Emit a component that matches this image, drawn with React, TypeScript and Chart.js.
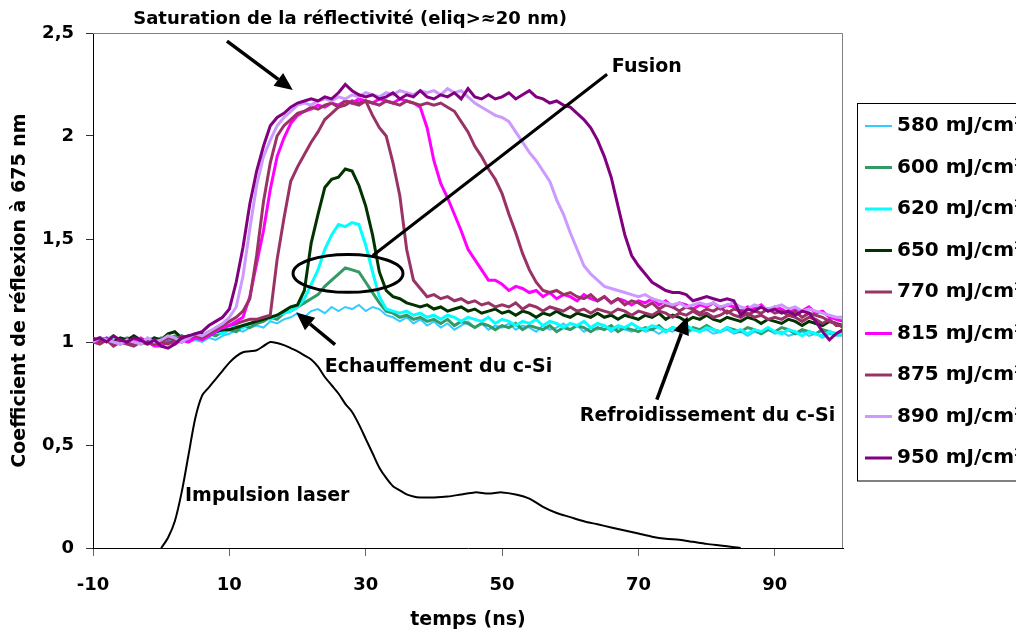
import React, { useEffect, useRef } from 'react';
import { Chart, registerables } from 'chart.js';

Chart.register(...registerables);

const FONT = '"DejaVu Sans", Arial, sans-serif';

// time axis (ns)
const timeNs = [
  -10, -9, -8, -7, -6, -5, -4, -3, -2, -1,
  0, 1, 2, 3, 4, 5, 6, 7, 8, 9,
  10, 11, 12, 13, 14, 15, 16, 17, 18, 19,
  20, 21, 22, 23, 24, 25, 26, 27, 28, 29,
  30, 31, 32, 33, 34, 35, 36, 37, 38, 39,
  40, 41, 42, 43, 44, 45, 46, 47, 48, 49,
  50, 51, 52, 53, 54, 55, 56, 57, 58, 59,
  60, 61, 62, 63, 64, 65, 66, 67, 68, 69,
  70, 71, 72, 73, 74, 75, 76, 77, 78, 79,
  80, 81, 82, 83, 84, 85, 86, 87, 88, 89,
  90, 91, 92, 93, 94, 95, 96, 97, 98, 99,
  100,
];

const r580 = [
  1.01, 1.00, 1.02, 1.00, 1.01, 0.99, 1.01, 1.00, 1.02, 1.00,
  0.99, 1.01, 1.00, 1.02, 1.00, 1.01, 1.00, 1.02, 1.01, 1.03,
  1.04, 1.06, 1.05, 1.07, 1.08, 1.07, 1.10, 1.09, 1.11, 1.12,
  1.14, 1.12, 1.15, 1.16, 1.14, 1.17, 1.15, 1.17, 1.16, 1.18,
  1.15, 1.17, 1.16, 1.13, 1.12, 1.10, 1.12, 1.09, 1.11, 1.08,
  1.10, 1.07, 1.09, 1.06, 1.08, 1.10, 1.07, 1.09, 1.06, 1.08,
  1.07, 1.09, 1.06, 1.08, 1.07, 1.05, 1.08, 1.06, 1.07, 1.09,
  1.06, 1.08, 1.05, 1.07, 1.06, 1.08, 1.05, 1.07, 1.06, 1.05,
  1.07, 1.05, 1.06, 1.04, 1.06, 1.05, 1.07, 1.04, 1.06, 1.05,
  1.06, 1.04, 1.05, 1.06, 1.04, 1.05, 1.03, 1.05, 1.04, 1.06,
  1.04, 1.05, 1.03, 1.04, 1.05, 1.03, 1.04, 1.02, 1.04, 1.03,
  1.03,
];

const r600 = [
  1.00, 1.02, 1.01, 1.03, 1.00, 1.02, 1.01, 0.99, 1.01, 1.00,
  1.02, 1.01, 1.03, 1.02, 1.01, 1.03, 1.02, 1.04, 1.03, 1.05,
  1.06, 1.05, 1.08, 1.07, 1.09, 1.10, 1.12, 1.11, 1.14, 1.15,
  1.17, 1.19, 1.21, 1.23, 1.27, 1.30, 1.33, 1.36, 1.35, 1.34,
  1.29, 1.24, 1.19, 1.15, 1.14, 1.12, 1.13, 1.11, 1.12, 1.10,
  1.11, 1.09, 1.11, 1.08, 1.10, 1.09, 1.07, 1.09, 1.08, 1.06,
  1.08, 1.07, 1.09, 1.06, 1.08, 1.07, 1.06, 1.08, 1.05, 1.07,
  1.06, 1.08, 1.07, 1.05, 1.07, 1.06, 1.08, 1.05, 1.07, 1.06,
  1.05, 1.07, 1.06, 1.08, 1.05, 1.07, 1.06, 1.05, 1.07, 1.06,
  1.08, 1.06, 1.05, 1.07, 1.06, 1.05, 1.07, 1.06, 1.04, 1.06,
  1.05, 1.07, 1.06, 1.04, 1.06, 1.05, 1.04, 1.06, 1.05, 1.04,
  1.05,
];

const r620 = [
  1.01, 1.00, 1.02, 1.01, 0.99, 1.01, 1.02, 1.00, 1.01, 1.02,
  1.00, 1.02, 1.01, 1.03, 1.01, 1.02, 1.04, 1.03, 1.05, 1.04,
  1.06, 1.08, 1.07, 1.09, 1.10, 1.12, 1.11, 1.13, 1.14, 1.15,
  1.17, 1.21, 1.28, 1.35, 1.45, 1.52, 1.57, 1.56, 1.58, 1.57,
  1.47, 1.34, 1.22, 1.16, 1.15, 1.14, 1.15, 1.13, 1.14, 1.12,
  1.13, 1.11, 1.13, 1.12, 1.10, 1.12, 1.11, 1.10, 1.12, 1.09,
  1.11, 1.10, 1.08, 1.10, 1.09, 1.11, 1.08, 1.10, 1.09, 1.07,
  1.09, 1.08, 1.10, 1.07, 1.09, 1.08, 1.06, 1.08, 1.07, 1.09,
  1.07, 1.06, 1.08, 1.07, 1.05, 1.07, 1.06, 1.08, 1.06, 1.05,
  1.07, 1.06, 1.05, 1.07, 1.05, 1.06, 1.04, 1.06, 1.05, 1.07,
  1.05, 1.04, 1.06, 1.05, 1.03, 1.05, 1.04, 1.03, 1.05, 1.04,
  1.04,
];

const r650 = [
  1.00, 1.02, 1.01, 1.00, 1.02, 1.01, 1.03, 1.01, 1.00, 1.02,
  1.01, 1.04, 1.05, 1.02, 1.03, 1.02, 1.04, 1.03, 1.05, 1.06,
  1.06, 1.07, 1.08, 1.09, 1.10, 1.11, 1.12, 1.13, 1.15, 1.17,
  1.18, 1.25, 1.48, 1.62, 1.75, 1.79, 1.80, 1.84, 1.83, 1.76,
  1.66, 1.52, 1.34, 1.25, 1.22, 1.21, 1.19, 1.18, 1.17, 1.18,
  1.16, 1.17, 1.15, 1.16, 1.17, 1.15, 1.16, 1.14, 1.15, 1.16,
  1.14, 1.15, 1.13, 1.15, 1.14, 1.12, 1.14, 1.13, 1.15, 1.13,
  1.12, 1.14, 1.13, 1.12, 1.14, 1.12, 1.13, 1.11, 1.13, 1.12,
  1.11, 1.13, 1.12, 1.14, 1.11, 1.13, 1.12, 1.10, 1.12, 1.11,
  1.13, 1.11, 1.10, 1.12, 1.11, 1.10, 1.12, 1.11, 1.09, 1.11,
  1.10, 1.09, 1.11, 1.10, 1.08, 1.10, 1.09, 1.08, 1.10, 1.09,
  1.08,
];

const r770 = [
  1.00, 0.99, 1.01, 0.98, 1.00, 0.99, 0.98, 1.00, 0.99, 1.01,
  1.00, 1.02, 1.01, 1.03, 1.02, 1.04, 1.03, 1.05, 1.06, 1.07,
  1.08, 1.09, 1.10, 1.11, 1.11, 1.12, 1.13, 1.40, 1.60, 1.78,
  1.85, 1.91, 1.97, 2.02, 2.08, 2.11, 2.14, 2.15, 2.17, 2.16,
  2.17, 2.10, 2.04, 2.00, 1.87, 1.71, 1.45, 1.30, 1.26, 1.22,
  1.23, 1.21, 1.22, 1.20, 1.21, 1.19, 1.20, 1.18, 1.19, 1.17,
  1.18, 1.17, 1.19, 1.16, 1.18, 1.17, 1.15, 1.17, 1.16, 1.15,
  1.17, 1.15, 1.16, 1.14, 1.16, 1.15, 1.14, 1.16, 1.15, 1.13,
  1.15, 1.14, 1.13, 1.15, 1.14, 1.12, 1.14, 1.13, 1.15, 1.13,
  1.14, 1.12, 1.13, 1.15, 1.13, 1.12, 1.14, 1.12, 1.13, 1.11,
  1.12, 1.11, 1.13, 1.12, 1.10, 1.12, 1.11, 1.09, 1.11, 1.08,
  1.08,
];

const r815 = [
  1.01, 1.00, 1.02, 1.00, 0.99, 1.01, 1.00, 1.02, 1.00, 0.98,
  0.98, 1.00, 0.99, 1.01, 1.00, 1.02, 1.01, 1.03, 1.05, 1.07,
  1.08, 1.10, 1.12, 1.22, 1.38, 1.54, 1.74, 1.90, 1.99, 2.06,
  2.10, 2.12, 2.13, 2.15, 2.14, 2.16, 2.15, 2.17, 2.16, 2.18,
  2.17, 2.16, 2.18, 2.17, 2.16, 2.18, 2.17, 2.16, 2.14, 2.04,
  1.88, 1.77, 1.70, 1.62, 1.54, 1.45, 1.40, 1.35, 1.30, 1.30,
  1.28, 1.25, 1.27, 1.26, 1.24, 1.25, 1.22, 1.24, 1.21, 1.23,
  1.22, 1.20, 1.23, 1.21, 1.20, 1.22, 1.19, 1.21, 1.20, 1.18,
  1.20, 1.19, 1.21, 1.18, 1.20, 1.17, 1.19, 1.18, 1.16, 1.18,
  1.17, 1.19, 1.16, 1.18, 1.17, 1.15, 1.17, 1.16, 1.18, 1.15,
  1.17, 1.16, 1.14, 1.16, 1.15, 1.17, 1.14, 1.15, 1.12, 1.11,
  1.10,
];

const r875 = [
  1.02, 1.00, 1.01, 0.99, 1.01, 1.00, 0.99, 1.01, 1.00, 0.99,
  1.00, 0.99, 1.01, 1.00, 1.02, 1.03, 1.02, 1.04, 1.06, 1.08,
  1.10, 1.12, 1.15, 1.21, 1.42, 1.68, 1.87, 2.00, 2.05, 2.08,
  2.11, 2.12, 2.14, 2.13, 2.15, 2.16, 2.14, 2.17, 2.16, 2.15,
  2.17, 2.16, 2.15, 2.17, 2.16, 2.15, 2.17, 2.16, 2.15, 2.16,
  2.15, 2.16, 2.14, 2.12, 2.07, 2.02, 1.95, 1.90, 1.84, 1.79,
  1.72, 1.62, 1.53, 1.43, 1.35, 1.29, 1.25, 1.24, 1.25, 1.23,
  1.24, 1.22, 1.21, 1.23, 1.20, 1.22, 1.19, 1.21, 1.18, 1.20,
  1.19, 1.17, 1.19, 1.16, 1.18, 1.17, 1.15, 1.17, 1.16, 1.14,
  1.16, 1.15, 1.17, 1.14, 1.16, 1.15, 1.13, 1.15, 1.14, 1.16,
  1.14, 1.15, 1.13, 1.15, 1.12, 1.14, 1.13, 1.12, 1.10, 1.09,
  1.07,
];

const r890 = [
  1.00, 1.02, 1.01, 1.00, 0.99, 1.01, 1.00, 0.99, 1.02, 1.00,
  1.01, 1.03, 1.02, 1.00, 1.02, 1.04, 1.03, 1.05, 1.07, 1.09,
  1.12, 1.17, 1.32, 1.55, 1.76, 1.90, 1.98, 2.05, 2.09, 2.12,
  2.15, 2.16, 2.15, 2.17, 2.18, 2.17, 2.19, 2.18, 2.20, 2.19,
  2.21, 2.20, 2.19, 2.21, 2.20, 2.22, 2.21, 2.20, 2.22, 2.21,
  2.22, 2.20, 2.23, 2.21, 2.22, 2.19, 2.16, 2.14, 2.12, 2.10,
  2.09, 2.07, 2.02, 1.97, 1.92, 1.88, 1.83, 1.78, 1.69, 1.62,
  1.53, 1.45, 1.37, 1.33, 1.30, 1.27, 1.26, 1.25, 1.24, 1.23,
  1.22, 1.23, 1.21, 1.20, 1.19, 1.18, 1.19, 1.17, 1.18, 1.19,
  1.18, 1.19, 1.17, 1.18, 1.19, 1.17, 1.16, 1.18, 1.17, 1.16,
  1.17, 1.18, 1.16, 1.17, 1.15, 1.16, 1.15, 1.14, 1.13, 1.12,
  1.12,
];

const r950 = [
  1.01, 1.02, 1.00, 1.03, 1.01, 1.00, 1.02, 1.01, 0.99, 1.01,
  0.98, 0.97, 0.99, 1.02, 1.03, 1.04, 1.05, 1.08, 1.10, 1.12,
  1.16, 1.29, 1.46, 1.67, 1.83, 1.95, 2.05, 2.09, 2.11, 2.14,
  2.16, 2.17, 2.18, 2.17, 2.19, 2.18, 2.21, 2.25, 2.22, 2.20,
  2.19, 2.20, 2.18, 2.19, 2.21, 2.18, 2.20, 2.19, 2.22, 2.19,
  2.18, 2.20, 2.19, 2.21, 2.18, 2.23, 2.19, 2.18, 2.20, 2.18,
  2.19, 2.21, 2.18, 2.20, 2.22, 2.19, 2.18, 2.16, 2.17, 2.15,
  2.14, 2.11, 2.08, 2.04, 1.98, 1.90, 1.80, 1.66, 1.52, 1.42,
  1.37, 1.33, 1.29, 1.27, 1.25, 1.24, 1.24, 1.23, 1.20, 1.21,
  1.22, 1.21, 1.20, 1.21, 1.20, 1.13, 1.16, 1.15, 1.17, 1.15,
  1.16, 1.14, 1.15, 1.13, 1.15, 1.14, 1.10, 1.05, 1.01, 1.04,
  1.06,
];

// laser pulse
const pulseTime = [
  0, 1, 2, 3, 4, 5, 6, 7, 8, 9, 10, 11, 12, 13, 14, 15, 16, 17, 18, 19,
  20, 21, 22, 23, 24, 25, 26, 27, 28, 29, 30, 31, 32, 33, 34, 35, 36, 37, 38, 39,
  40, 42, 44, 46, 48, 50, 52, 54, 56, 58, 60, 62, 64, 66, 68, 70, 72, 74, 76, 78,
  80, 82, 84, 85,
];
const pulseValues = [
  0, 0.05, 0.13, 0.27, 0.45, 0.63, 0.74, 0.78, 0.82, 0.86, 0.9, 0.93, 0.95, 0.955, 0.96, 0.98, 1.0, 0.995, 0.985, 0.97,
  0.955, 0.935, 0.915, 0.88, 0.83, 0.79, 0.75, 0.7, 0.66, 0.6, 0.53, 0.46, 0.39, 0.34, 0.3, 0.28, 0.26, 0.25, 0.245, 0.245,
  0.245, 0.25, 0.26, 0.27, 0.265, 0.27, 0.26, 0.24, 0.2, 0.17, 0.15, 0.13, 0.115, 0.1, 0.085, 0.07, 0.055, 0.045, 0.04, 0.03,
  0.02, 0.012, 0.004, 0,
];

const seriesLabels = [
  '580 mJ/cm²', '600 mJ/cm²', '620 mJ/cm²', '650 mJ/cm²', '770 mJ/cm²',
  '815 mJ/cm²', '875 mJ/cm²', '890 mJ/cm²', '950 mJ/cm²',
];
const seriesValues = [r580, r600, r620, r650, r770, r815, r875, r890, r950];
const seriesColors = [
  '#33CCFF', '#339966', '#00FFFF', '#003300', '#993366',
  '#FF00FF', '#993366', '#CC99FF', '#800080',
];
const seriesWidths = [2, 3, 3, 3, 3, 3, 3, 3, 3];

const xTickValues = [-10, 10, 30, 50, 70, 90];

// annotations, in data units
const annotationTexts = [
  { text: 'Saturation de la réflectivité (eliq>≈20 nm)', x: -4.1, y: 2.566, size: 18 },
  { text: 'Fusion', x: 66.1, y: 2.335, size: 19 },
  { text: 'Echauffement du c-Si', x: 24.0, y: 0.88, size: 19 },
  { text: 'Refroidissement du c-Si', x: 61.4, y: 0.642, size: 19 },
  { text: 'Impulsion laser', x: 3.5, y: 0.253, size: 19 },
];
const annotationArrows = [
  { from: [9.65, 2.461], to: [19.3, 2.223] },
  { from: [25.5, 0.987], to: [19.8, 1.143] },
  { from: [72.7, 0.72], to: [77.2, 1.124] },
];
const fusionLine = { from: [65.4, 2.3], to: [31.05, 1.42] };
const fusionEllipse = { cx: 27.4, cy: 1.333, rx: 8.06, ry: 0.092 };

function drawArrow(ctx: CanvasRenderingContext2D, x1: number, y1: number, x2: number, y2: number) {
  const headLen = 18;
  const headW = 8;
  const ang = Math.atan2(y2 - y1, x2 - x1);
  const bx = x2 - headLen * Math.cos(ang);
  const by = y2 - headLen * Math.sin(ang);
  ctx.beginPath();
  ctx.moveTo(x1, y1);
  ctx.lineTo(bx, by);
  ctx.stroke();
  ctx.beginPath();
  ctx.moveTo(x2, y2);
  ctx.lineTo(bx + headW * Math.sin(ang), by - headW * Math.cos(ang));
  ctx.lineTo(bx - headW * Math.sin(ang), by + headW * Math.cos(ang));
  ctx.closePath();
  ctx.fill();
}

const overlayPlugin = {
  id: 'overlay',
  afterDraw(chart: any) {
    const { ctx, chartArea } = chart;
    const xs = chart.scales.x;
    const ys = chart.scales.y;
    const px = (v: number) => xs.getPixelForValue(v);
    const py = (v: number) => ys.getPixelForValue(v);
    ctx.save();

    // plot frame (top and right)
    ctx.strokeStyle = '#808080';
    ctx.lineWidth = 1;
    ctx.beginPath();
    ctx.moveTo(chartArea.left, Math.round(chartArea.top) + 0.5);
    ctx.lineTo(Math.round(chartArea.right) - 0.5, Math.round(chartArea.top) + 0.5);
    ctx.lineTo(Math.round(chartArea.right) - 0.5, chartArea.bottom);
    ctx.stroke();

    // texts
    ctx.fillStyle = '#000';
    ctx.textAlign = 'left';
    ctx.textBaseline = 'middle';
    annotationTexts.forEach((a) => {
      ctx.font = `bold ${a.size}px ${FONT}`;
      ctx.fillText(a.text, px(a.x), py(a.y));
    });

    // arrows
    ctx.strokeStyle = '#000';
    ctx.lineWidth = 3.5;
    annotationArrows.forEach((a) => {
      drawArrow(ctx, px(a.from[0]), py(a.from[1]), px(a.to[0]), py(a.to[1]));
    });

    // fusion line + ellipse
    ctx.lineWidth = 3;
    ctx.beginPath();
    ctx.moveTo(px(fusionLine.from[0]), py(fusionLine.from[1]));
    ctx.lineTo(px(fusionLine.to[0]), py(fusionLine.to[1]));
    ctx.stroke();
    const cx = px(fusionEllipse.cx);
    const cy = py(fusionEllipse.cy);
    const rx = Math.abs(px(fusionEllipse.cx + fusionEllipse.rx) - cx);
    const ry = Math.abs(py(fusionEllipse.cy + fusionEllipse.ry) - cy);
    ctx.beginPath();
    ctx.ellipse(cx, cy, rx, ry, 0, 0, Math.PI * 2);
    ctx.stroke();

    // legend
    const lx = 857;
    const ly = 103;
    const rowH = 41.5;
    const n = seriesLabels.length;
    ctx.strokeStyle = '#000';
    ctx.lineWidth = 1;
    ctx.strokeRect(lx + 0.5, ly + 0.5, 200, rowH * n + 4);
    ctx.font = `bold 20px ${FONT}`;
    chart.data.datasets.forEach((ds: any) => {
      if (ds.legendIndex === undefined) return;
      const yy = ly + 23 + ds.legendIndex * rowH;
      ctx.strokeStyle = ds.borderColor;
      ctx.lineWidth = ds.borderWidth;
      ctx.beginPath();
      ctx.moveTo(865, yy);
      ctx.lineTo(892, yy);
      ctx.stroke();
      ctx.fillStyle = '#000';
      ctx.fillText(ds.label, 897, yy);
    });

    ctx.restore();
  },
};

export default function App() {
  const ref = useRef<HTMLCanvasElement>(null);

  useEffect(() => {
    if (!ref.current) return;
    const datasets: any[] = seriesValues.map((vals, i) => ({
      label: seriesLabels[i],
      data: timeNs.map((t, k) => ({ x: t, y: vals[k] })),
      borderColor: seriesColors[i],
      backgroundColor: seriesColors[i],
      borderWidth: seriesWidths[i],
      pointRadius: 0,
      tension: 0,
      fill: false,
      order: 20 - i,
      legendIndex: i,
    }));
    datasets.push({
      label: 'Impulsion laser',
      data: pulseTime.map((t, k) => ({ x: t, y: pulseValues[k] })),
      borderColor: '#000',
      backgroundColor: '#000',
      borderWidth: 2,
      pointRadius: 0,
      tension: 0.3,
      fill: false,
      order: 50,
    });

    const tickFont = { family: FONT, size: 18, weight: 'bold' as const };
    const titleFont = { family: FONT, size: 19, weight: 'bold' as const };

    const chart = new Chart(ref.current, {
      type: 'line',
      data: { datasets },
      options: {
        animation: false,
        responsive: true,
        maintainAspectRatio: false,
        layout: { padding: { top: 33, right: 173, left: 0, bottom: 0 } },
        plugins: {
          legend: { display: false },
          tooltip: { enabled: false },
        },
        scales: {
          x: {
            type: 'linear',
            min: -10,
            max: 100,
            afterBuildTicks: (s: any) => {
              s.ticks = xTickValues.map((v) => ({ value: v }));
            },
            afterFit: (s: any) => {
              s.height = 85;
            },
            grid: { drawOnChartArea: false, drawTicks: true, tickLength: 8, color: '#666' },
            border: { display: true, color: '#000', width: 1 },
            ticks: {
              font: tickFont,
              color: '#000',
              padding: 19,
              maxRotation: 0,
              autoSkip: false,
              callback: (v: any) => String(v),
            },
            title: {
              display: true,
              text: 'temps (ns)',
              font: titleFont,
              color: '#000',
              padding: { top: 0, bottom: 2 },
            },
          },
          y: {
            type: 'linear',
            min: 0,
            max: 2.5,
            afterFit: (s: any) => {
              s.width = 93;
            },
            grid: { drawOnChartArea: false, drawTicks: true, tickLength: 7, color: '#333' },
            border: { display: true, color: '#000', width: 1 },
            ticks: {
              stepSize: 0.5,
              font: tickFont,
              color: '#000',
              padding: 12,
              callback: (v: any) => String(v).replace('.', ','),
            },
            title: {
              display: true,
              text: 'Coefficient de réflexion à 675 nm',
              font: titleFont,
              color: '#000',
              padding: { top: 9, bottom: 0 },
            },
          },
        },
      },
      plugins: [overlayPlugin],
    });

    return () => {
      chart.destroy();
    };
  }, []);

  return (
    <div style={{ position: 'absolute', left: 0, top: 0, width: 1016, height: 633, background: '#fff' }}>
      <canvas ref={ref} />
    </div>
  );
}
